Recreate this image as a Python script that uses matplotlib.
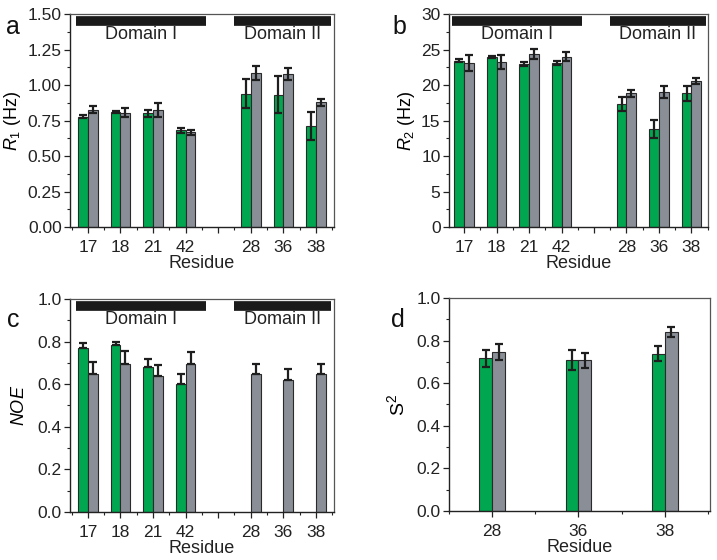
import numpy as np
import matplotlib
matplotlib.use("Agg")
import matplotlib.pyplot as plt
from matplotlib.ticker import MultipleLocator, FormatStrFormatter
import matplotlib.transforms as mtransforms

plt.rcParams["font.family"] = ["Liberation Sans", "DejaVu Sans"]
plt.rcParams["mathtext.fontset"] = "custom"
plt.rcParams["mathtext.rm"] = "Liberation Sans"
plt.rcParams["mathtext.it"] = "Liberation Sans:italic"

# ----------------
# Data
# ----------------
residues = ["17", "18", "21", "42", "", "28", "36", "38"]
residues_d = ["28", "36", "38"]

r1_green = [0.776, 0.808, 0.800, 0.680, np.nan, 0.940, 0.933, 0.710]
r1_green_err = [0.010, 0.008, 0.024, 0.020, np.nan, 0.100, 0.130, 0.100]
r1_gray = [0.826, 0.804, 0.823, 0.668, np.nan, 1.084, 1.077, 0.878]
r1_gray_err = [0.024, 0.032, 0.047, 0.018, np.nan, 0.050, 0.043, 0.024]

r2_green = [23.45, 23.9, 22.95, 23.15, np.nan, 17.35, 13.8, 18.85]
r2_green_err = [0.2, 0.15, 0.25, 0.3, np.nan, 1.0, 1.25, 1.05]
r2_gray = [23.1, 23.2, 24.35, 24.0, np.nan, 18.85, 19.0, 20.6]
r2_gray_err = [1.1, 1.0, 0.7, 0.6, np.nan, 0.5, 0.85, 0.4]

noe_green = [0.771, 0.784, 0.682, 0.603, np.nan, np.nan, np.nan, np.nan]
noe_green_err = [0.024, 0.013, 0.038, 0.043, np.nan, np.nan, np.nan, np.nan]
noe_gray = [0.650, 0.697, 0.638, 0.697, np.nan, 0.646, 0.619, 0.646]
noe_gray_err = [0.055, 0.058, 0.052, 0.055, np.nan, 0.051, 0.050, 0.051]

s2_green = [0.718, 0.707, 0.739]
s2_green_err = [0.040, 0.047, 0.036]
s2_gray = [0.746, 0.707, 0.840]
s2_gray_err = [0.036, 0.037, 0.023]

domains = [("Domain I", 0.62, 4.62), ("Domain II", 5.48, 8.45)]

# ----------------
# Styles
# ----------------
GREEN = "#00a650"
GRAY = "#8a8f97"
EDGE = "#2a2a2a"
ERR = "#1e1e1e"
TICK_FS = 12.5
LABEL_FS = 13

fig = plt.figure(figsize=(7.17, 5.60), dpi=100)


def style_axes(ax, ymax, ymajor):
    ax.set_ylim(0, ymax)
    ax.yaxis.set_major_locator(MultipleLocator(ymajor))
    ax.yaxis.set_minor_locator(MultipleLocator(ymajor / 2))
    ax.xaxis.set_minor_locator(MultipleLocator(0.5))
    ax.tick_params(axis="both", which="major", direction="out", length=4,
                   width=0.9, labelsize=TICK_FS, color="#222222",
                   labelcolor="#222222")
    ax.tick_params(axis="both", which="minor", direction="out", length=2.5,
                   width=0.8, color="#222222")
    ax.tick_params(axis="y", pad=2)
    ax.tick_params(axis="x", pad=5)
    for side in ("left", "bottom"):
        ax.spines[side].set_color("#222222")
        ax.spines[side].set_linewidth(1.0)
    for side in ("top", "right"):
        ax.spines[side].set_color("#555555")
        ax.spines[side].set_linewidth(0.9)
    ax.set_xlabel("Residue", fontsize=LABEL_FS, labelpad=0, color="#222222")


def draw_bars(ax, green, green_err, gray, gray_err, width, upper_only=False):
    x = np.arange(1, len(green) + 1)
    ax.bar(x - width, green, width=width, align="edge", color=GREEN,
           edgecolor=EDGE, linewidth=0.8, zorder=2)
    ax.bar(x, gray, width=width, align="edge", color=GRAY,
           edgecolor=EDGE, linewidth=0.8, zorder=2)
    ge = np.array(green_err, dtype=float)
    ye = np.array(gray_err, dtype=float)
    if upper_only:
        ge = [np.zeros_like(ge), ge]
        ye = [np.zeros_like(ye), ye]
    ax.errorbar(x - width / 2, green, yerr=ge, fmt="none", ecolor=ERR,
                elinewidth=1.6, capsize=3, capthick=1.6, zorder=3)
    ax.errorbar(x + width / 2, gray, yerr=ye, fmt="none", ecolor=ERR,
                elinewidth=1.6, capsize=3, capthick=1.6, zorder=3)
    return x


def draw_domains(ax):
    trans = mtransforms.blended_transform_factory(ax.transData, ax.transAxes)
    for name, x0, x1 in domains:
        ax.plot([x0, x1], [0.967, 0.967], transform=trans, color="#1a1a1a",
                linewidth=7, solid_capstyle="butt", clip_on=False, zorder=4)
        ax.text((x0 + x1) / 2, 0.905, name, transform=trans, ha="center",
                va="center", fontsize=LABEL_FS, color="#222222")


# ---- panel a
ax_a = fig.add_axes([0.0976, 0.5946, 0.368, 0.3804])
x = draw_bars(ax_a, r1_green, r1_green_err, r1_gray, r1_gray_err, 0.3)
ax_a.set_xlim(0.45, 8.55)
ax_a.set_xticks(x)
ax_a.set_xticklabels(residues)
style_axes(ax_a, 1.5, 0.25)
ax_a.yaxis.set_major_formatter(FormatStrFormatter("%.2f"))
ax_a.set_ylabel(r"$\mathit{R}_{\mathit{1}}$ (Hz)", fontsize=LABEL_FS, labelpad=3)
draw_domains(ax_a)

# ---- panel b
ax_b = fig.add_axes([0.626, 0.5946, 0.361, 0.3804])
x = draw_bars(ax_b, r2_green, r2_green_err, r2_gray, r2_gray_err, 0.3)
ax_b.set_xlim(0.53, 8.5)
ax_b.set_xticks(x)
ax_b.set_xticklabels(residues)
style_axes(ax_b, 30, 5)
ax_b.set_ylabel(r"$\mathit{R}_{2}$ (Hz)", fontsize=LABEL_FS, labelpad=3)
draw_domains(ax_b)

# ---- panel c
ax_c = fig.add_axes([0.0976, 0.0857, 0.368, 0.3804])
x = draw_bars(ax_c, noe_green, noe_green_err, noe_gray, noe_gray_err, 0.3,
              upper_only=True)
ax_c.set_xlim(0.45, 8.55)
ax_c.set_xticks(x)
ax_c.set_xticklabels(residues)
style_axes(ax_c, 1.0, 0.2)
ax_c.yaxis.set_major_formatter(FormatStrFormatter("%.1f"))
ax_c.set_ylabel(r"$\mathit{NOE}$", fontsize=LABEL_FS, labelpad=7)
draw_domains(ax_c)

# ---- panel d
ax_d = fig.add_axes([0.626, 0.0875, 0.364, 0.3804])
x = draw_bars(ax_d, s2_green, s2_green_err, s2_gray, s2_gray_err, 0.15)
ax_d.set_xlim(0.5, 3.52)
ax_d.set_xticks(x)
ax_d.set_xticklabels(residues_d)
style_axes(ax_d, 1.0, 0.2)
ax_d.yaxis.set_major_formatter(FormatStrFormatter("%.1f"))
ax_d.set_ylabel(r"S$^{\mathregular{2}}$", fontsize=LABEL_FS + 1, labelpad=6)

# panel letters
for letter, px, py in (("a", 13, 27), ("b", 399, 27), ("c", 13, 320), ("d", 398, 320)):
    fig.text(px / 717, 1 - py / 560, letter, fontsize=18, ha="center",
             va="center", color="#111111")

fig.savefig("out.png", dpi=100)
